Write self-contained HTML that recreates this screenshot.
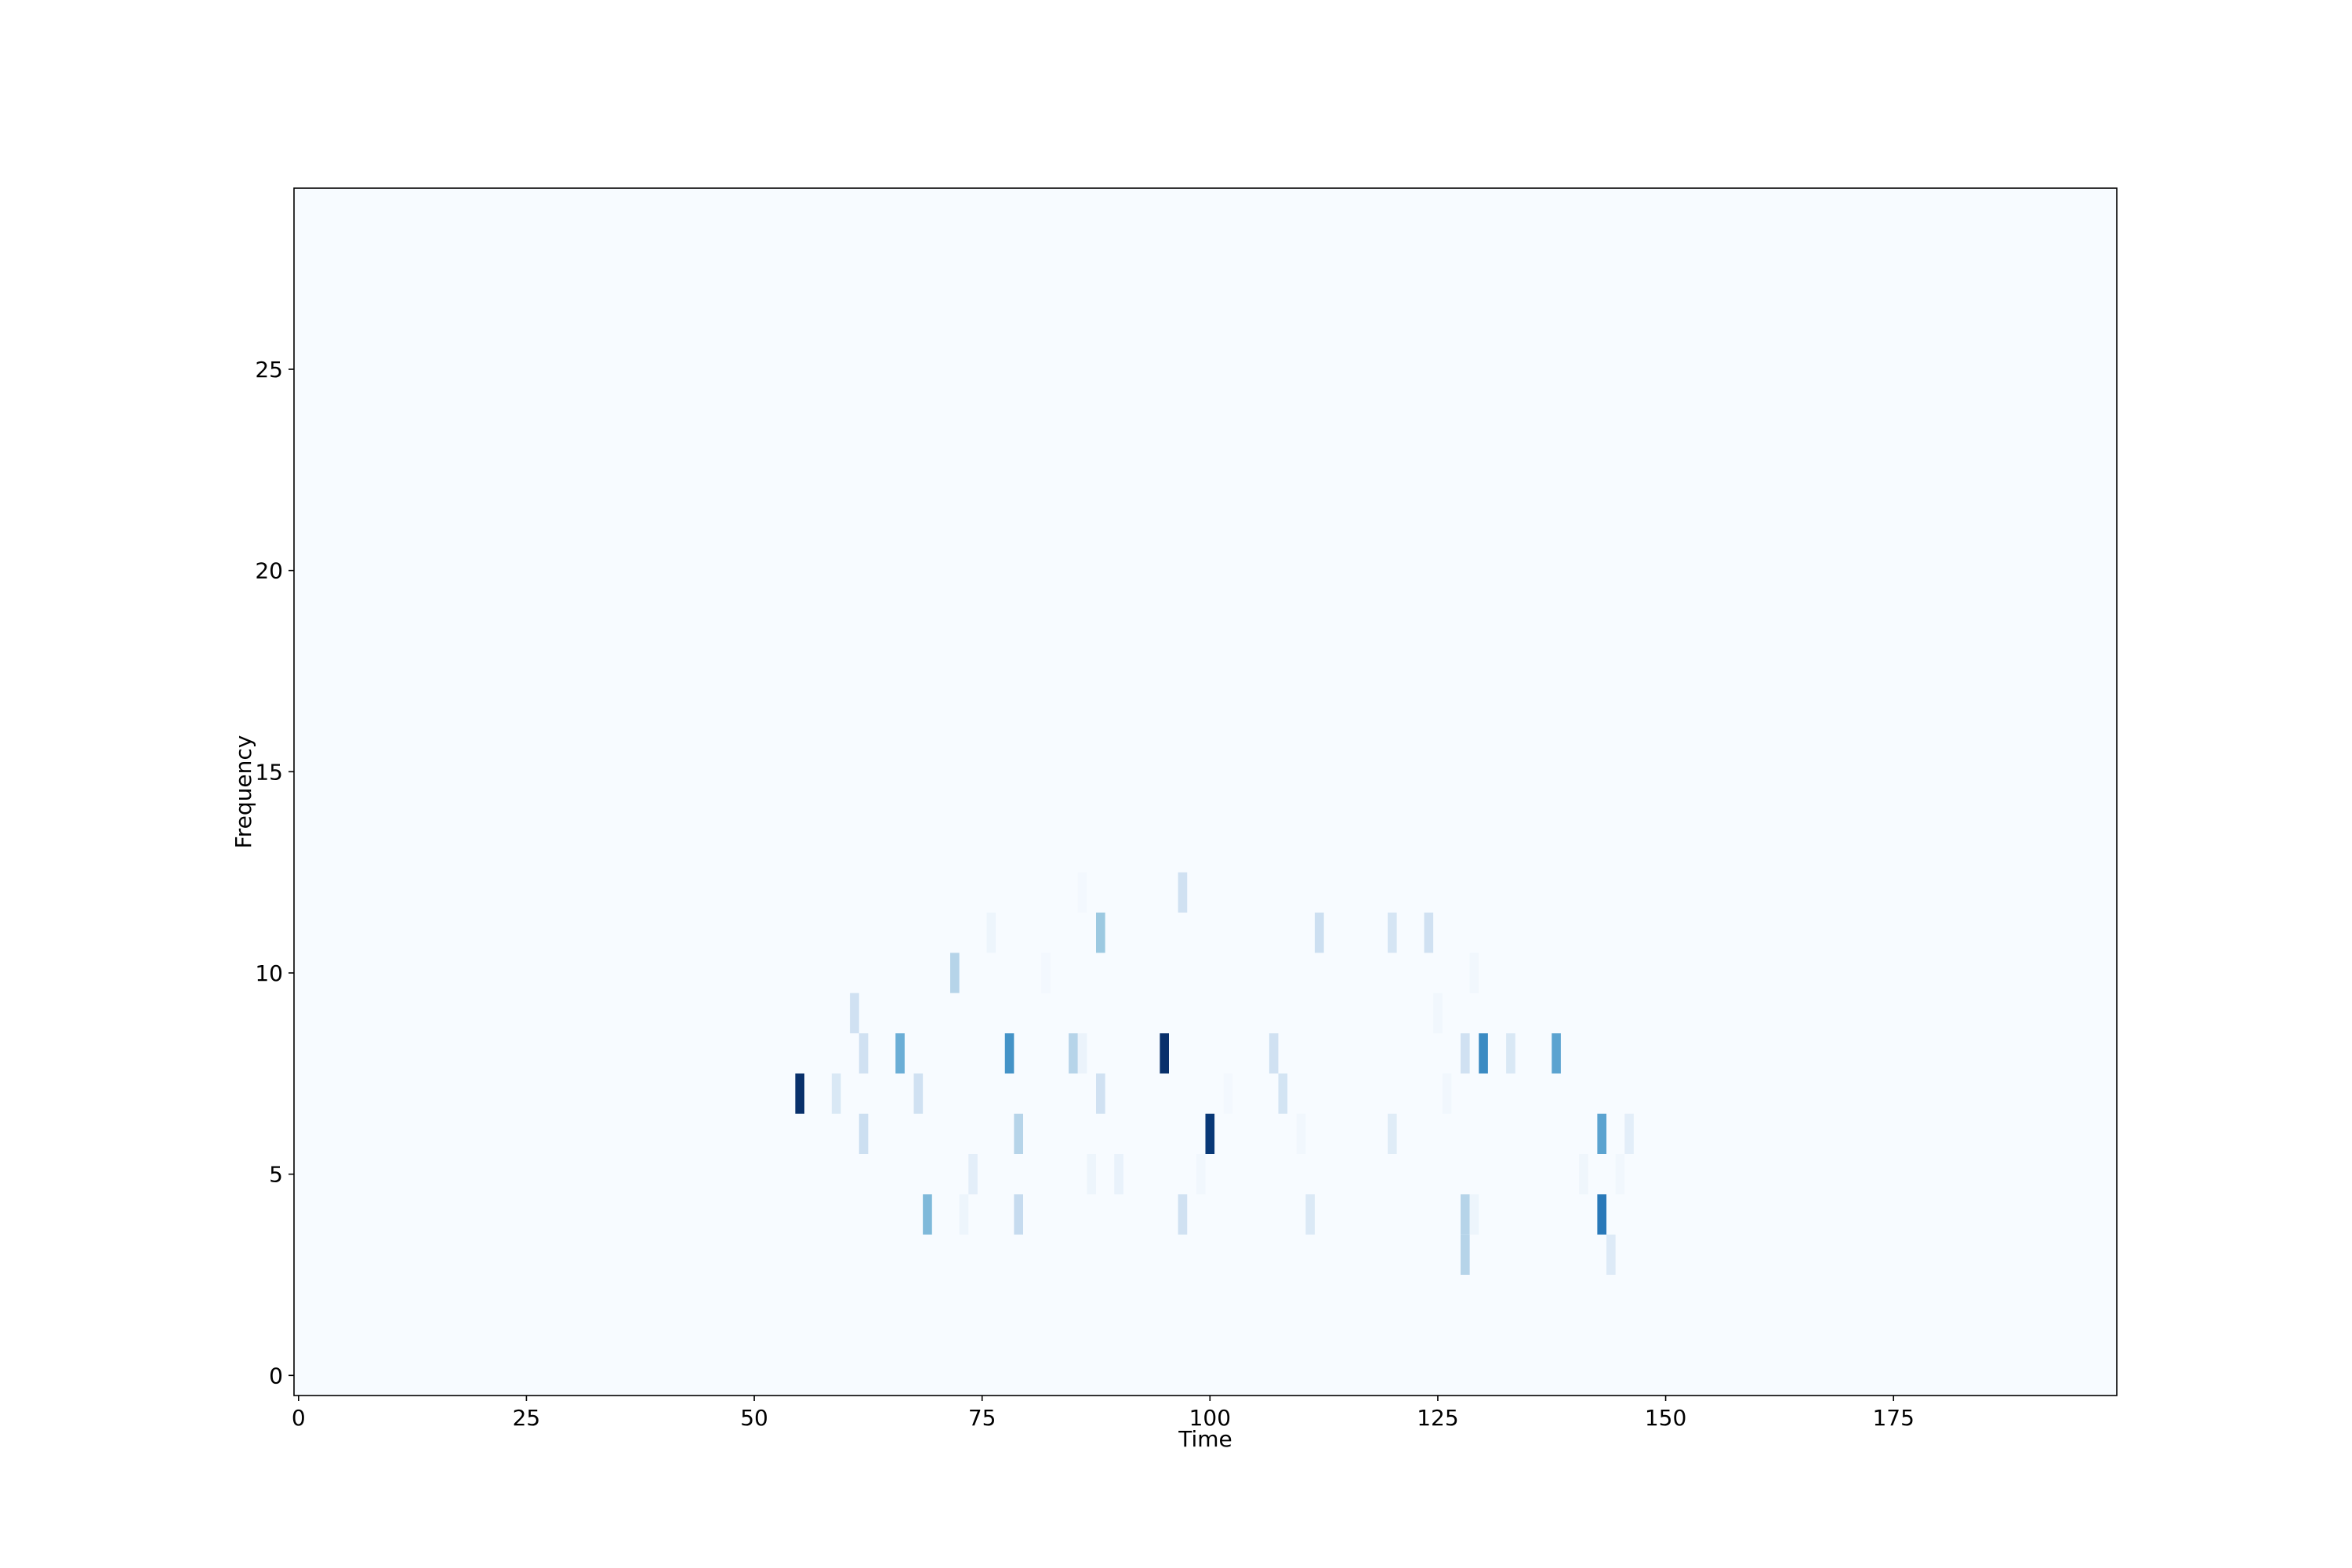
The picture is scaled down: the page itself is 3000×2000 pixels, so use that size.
<!DOCTYPE html>
<html><head><meta charset="utf-8">
<style>
html,body{margin:0;padding:0;background:#fff;}
svg{display:block;font-family:"DejaVu Sans","Liberation Sans",sans-serif;}
</style></head>
<body>
<svg id="chart" width="3000" height="2000" viewBox="0 0 3000 2000">
  <rect x="0" y="0" width="3000" height="2000" fill="#ffffff"/>
  <rect x="375" y="240" width="2325" height="1540" fill="#f7fbff"/>
  <g id="cells"></g>
  <g id="xticks"></g>
  <g id="yticks"></g>
  <rect x="375" y="240" width="2325" height="1540" fill="none" stroke="#000" stroke-width="1.6"/>
  <text x="1537.5" y="1845" font-size="28" text-anchor="middle">Time</text>
  <text x="320" y="1010" font-size="28" text-anchor="middle" transform="rotate(-90 320 1010)">Frequency</text>
</svg>
<script>
// data arrays
const cellTimes = [55,59,68,88,108,126,102, 62,66,78,85,86,95,107,128,130,133,138, 61,125, 72,82,129, 76,88,112,120,124, 97,86, 62,79,100,110,120,143,146, 74,87,90,99,141,145, 69,73,79,97,111,128,129,143, 128,144];
const cellFreqs = [7,7,7,7,7,7,7, 8,8,8,8,8,8,8,8,8,8,8, 9,9, 10,10,10, 11,11,11,11,11, 12,12, 6,6,6,6,6,6,6, 5,5,5,5,5,5, 4,4,4,4,4,4,4,4, 3,3];
const cellValues = [1.0,0.15,0.2,0.2,0.18,0.03,0.02, 0.2,0.5,0.62,0.3,0.06,1.0,0.2,0.2,0.65,0.15,0.55, 0.2,0.03, 0.3,0.02,0.03, 0.05,0.38,0.22,0.17,0.2, 0.2,0.02, 0.22,0.3,0.97,0.03,0.12,0.55,0.1, 0.1,0.05,0.07,0.03,0.04,0.03, 0.45,0.05,0.25,0.2,0.14,0.3,0.05,0.72, 0.3,0.13];
const xTickLabels = [0,25,50,75,100,125,150,175];
const yTickLabels = [0,5,10,15,20,25];

const NS='http://www.w3.org/2000/svg';
const L=375,R=2700,T=240,B=1780;
const xMin=-0.5,xMax=199.5,yMin=-0.5,yMax=29.5;
function xs(v){return L+(v-xMin)/(xMax-xMin)*(R-L);}
function ys(v){return B-(v-yMin)/(yMax-yMin)*(B-T);}
const stops=['#f7fbff','#deebf7','#c6dbef','#9ecae1','#6baed6','#4292c6','#2171b5','#08519c','#08306b'];
function hex(h){return [1,3,5].map(i=>parseInt(h.substr(i,2),16));}
function blues(t){t=Math.max(0,Math.min(1,t));const p=t*8,i=Math.min(7,Math.floor(p)),f=p-i;const a=hex(stops[i]),b=hex(stops[i+1]);return 'rgb('+a.map((c,k)=>Math.round(c+(b[k]-c)*f)).join(',')+')';}
function mk(tag,attrs){const e=document.createElementNS(NS,tag);for(const k in attrs)e.setAttribute(k,attrs[k]);return e;}
const cg=document.getElementById('cells');
for(let i=0;i<cellTimes.length;i++){
  const x0=xs(cellTimes[i]-0.5),x1=xs(cellTimes[i]+0.5),y0=ys(cellFreqs[i]+0.5),y1=ys(cellFreqs[i]-0.5);
  const r=mk('rect',{x:x0,y:y0,width:x1-x0,height:y1-y0,fill:blues(cellValues[i])});
  
  
  cg.appendChild(r);
}
const xg=document.getElementById('xticks');
xTickLabels.forEach(v=>{
  const x=xs(v);
  const l=mk('line',{x1:x,x2:x,y1:B,y2:B+7,stroke:'#000','stroke-width':1.6});
  
  
  xg.appendChild(l);
  const t=mk('text',{x:x,y:B+38,'font-size':28,'text-anchor':'middle'});
  t.textContent=v;
  
  
  xg.appendChild(t);
});
const yg=document.getElementById('yticks');
yTickLabels.forEach(v=>{
  const y=ys(v);
  const l=mk('line',{x1:L-7,x2:L,y1:y,y2:y,stroke:'#000','stroke-width':1.6});
  
  
  yg.appendChild(l);
  const t=mk('text',{x:L-14,y:y+10,'font-size':28,'text-anchor':'end'});
  t.textContent=v;
  
  
  yg.appendChild(t);
});
</script>
</body></html>
